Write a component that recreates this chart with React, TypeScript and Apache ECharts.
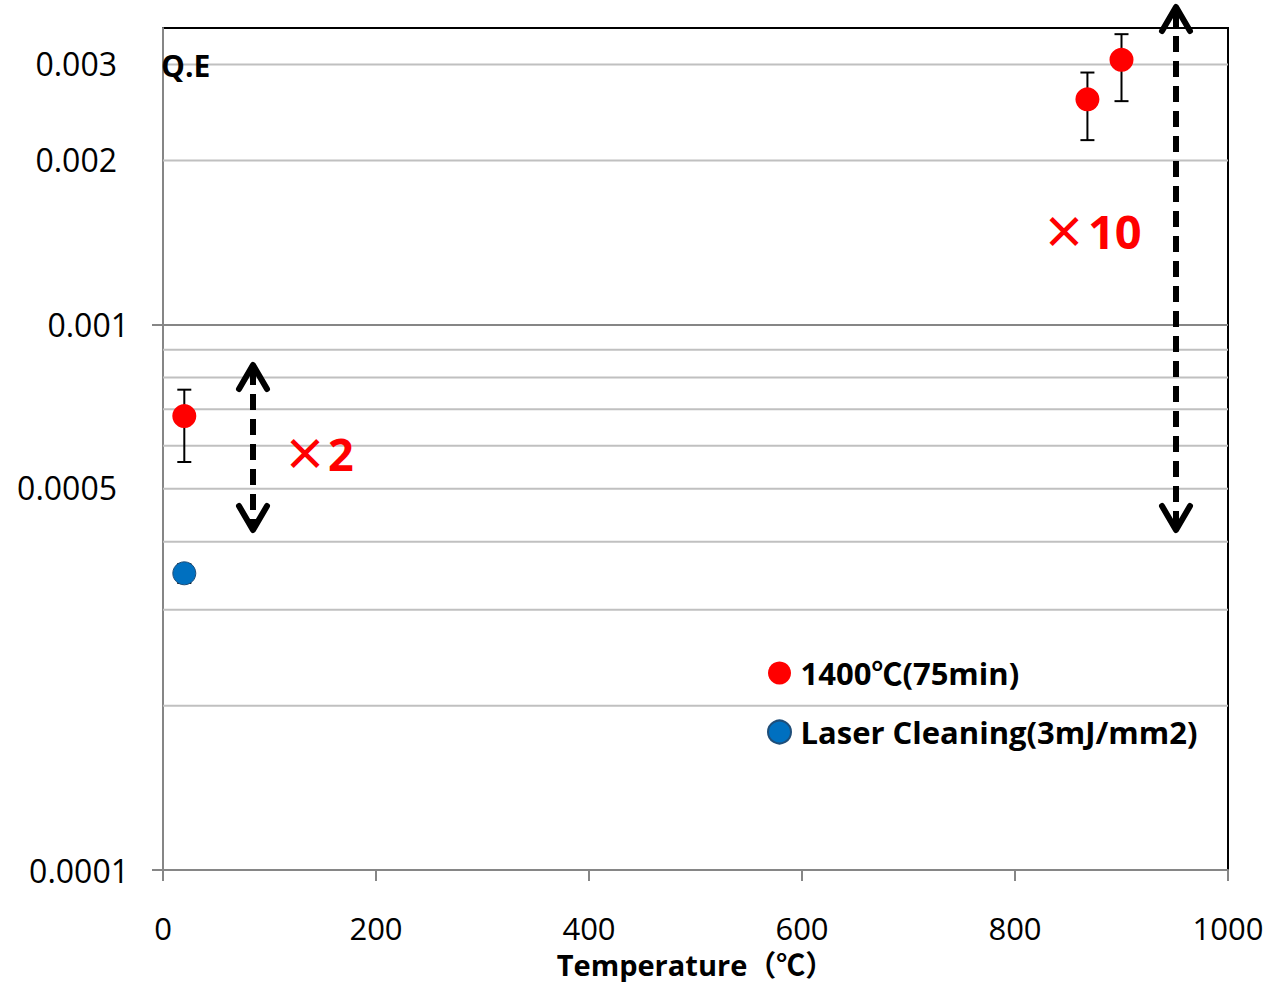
import React, { useEffect, useRef } from "react";
import * as echarts from "echarts";

// ---- data ----
const seriesNames = ["1400℃(75min)", "Laser Cleaning(3mJ/mm2)"];
// [temperature, Q.E]
const heated = [
  [20, 0.00068],
  [868, 0.00259],
  [900, 0.00306],
];
// [temperature, low, high]
const heatedErr = [
  [20, 0.00056, 0.00076],
  [868, 0.00218, 0.0029],
  [900, 0.00257, 0.00341],
];
const laser = [[20, 0.00035]];
const laserErr = [[20, 0.000336, 0.000364]];

const xTicks = [0, 200, 400, 600, 800, 1000];
const yMajorLabels = [0.0001, 0.001];
const gridValues = [0.0002, 0.0003, 0.0004, 0.0005, 0.0006, 0.0007, 0.0008, 0.0009, 0.002, 0.003];
const gridLabeled = ["0.0005", "0.002", "0.003"];

const FONT = '"Open Sans", "Noto Sans CJK JP", sans-serif';

function errorBars(color: string) {
  return (params: any, api: any) => {
    const x = api.value(0);
    const lo = api.coord([x, api.value(1)]);
    const hi = api.coord([x, api.value(2)]);
    const w = 7;
    const st = { stroke: color, lineWidth: 2 };
    return {
      type: "group",
      children: [
        { type: "line", shape: { x1: lo[0], y1: lo[1], x2: hi[0], y2: hi[1] }, style: st },
        { type: "line", shape: { x1: lo[0] - w, y1: lo[1], x2: lo[0] + w, y2: lo[1] }, style: st },
        { type: "line", shape: { x1: hi[0] - w, y1: hi[1], x2: hi[0] + w, y2: hi[1] }, style: st },
      ],
    };
  };
}

function gridLine(params: any, api: any) {
  const v = api.value(1);
  const p = api.coord([0, v]);
  const cs = params.coordSys;
  const children: any[] = [
    {
      type: "line",
      shape: { x1: cs.x, y1: p[1], x2: cs.x + cs.width, y2: p[1] },
      style: { stroke: "#c0c0c0", lineWidth: 2 },
    },
  ];
  const key = String(v);
  if (gridLabeled.includes(key)) {
    children.push({
      type: "text",
      x: cs.x - 46,
      y: p[1] - 1,
      style: {
        text: key,
        fontFamily: FONT,
        fontSize: 32,
        fill: "#000",
        align: "right",
        verticalAlign: "middle",
      },
    });
  }
  return { type: "group", children };
}

function arrow(x: number, yTop: number, yBot: number, lw: number) {
  const hw = 14;
  const hh = 26;
  const headStyle = { stroke: "#000", lineWidth: lw, fill: null, lineCap: "round", lineJoin: "round" };
  return [
    {
      type: "line",
      shape: { x1: x, y1: yTop + 6, x2: x, y2: yBot - 6 },
      style: { stroke: "#000", lineWidth: lw, lineDash: [16, 9] },
      z: 10,
    },
    {
      type: "polyline",
      shape: { points: [[x - hw, yTop + hh], [x, yTop + 2], [x + hw, yTop + hh]] },
      style: headStyle,
      z: 10,
    },
    {
      type: "polyline",
      shape: { points: [[x - hw, yBot - hh], [x, yBot - 2], [x + hw, yBot - hh]] },
      style: headStyle,
      z: 10,
    },
  ];
}

export default function App() {
  const ref = useRef<HTMLDivElement>(null);
  useEffect(() => {
    if (!ref.current) return;
    const chart = echarts.init(ref.current, null, { renderer: "svg" });
    const option: any = {
      animation: false,
      backgroundColor: "#fff",
      grid: {
        left: 163,
        right: 43,
        top: 28,
        bottom: 112,
        outerBoundsMode: "none",
        containLabel: false,
        show: true,
        borderColor: "#000",
        borderWidth: 2,
        backgroundColor: "transparent",
      },
      legend: {
        data: seriesNames.map((n) => ({ name: n, icon: "circle" })),
        orient: "vertical",
        left: 762,
        top: 651,
        itemWidth: 32,
        itemHeight: 23,
        itemGap: 25,
        textStyle: { fontFamily: FONT, fontSize: 31, fontWeight: "bold", color: "#000", lineHeight: 34 },
        selectedMode: false,
      },
      xAxis: {
        type: "value",
        min: 0,
        max: 1000,
        interval: 200,
        name: "Temperature（℃）",
        nameLocation: "middle",
        nameGap: 80,
        nameTextStyle: { fontFamily: FONT, fontSize: 29, fontWeight: "bold", color: "#000", lineHeight: 28 },
        axisLine: { show: true, lineStyle: { color: "#868686", width: 2 } },
        axisTick: { show: true, length: 11, lineStyle: { color: "#868686", width: 2 } },
        axisLabel: {
          fontFamily: FONT,
          fontSize: 31,
          color: "#000",
          margin: 44,
          lineHeight: 28,
          formatter: (v: number) => (xTicks.includes(v) ? String(v) : ""),
        },
        splitLine: { show: false },
      },
      yAxis: {
        type: "log",
        logBase: 10,
        min: 0.0001,
        max: 0.0035,
        axisLine: { show: true, lineStyle: { color: "#868686", width: 2 } },
        axisTick: { show: true, length: 11, lineStyle: { color: "#868686", width: 2 }, customValues: yMajorLabels },
        axisLabel: {
          customValues: yMajorLabels,
          fontFamily: FONT,
          fontSize: 32,
          color: "#000",
          margin: 34,
          formatter: (v: number) => {
            for (const m of yMajorLabels) if (Math.abs(v - m) / m < 1e-6) return String(m);
            return "";
          },
        },
        splitLine: { show: true, lineStyle: { color: "#868686", width: 2 } },
      },
      series: [
        {
          type: "custom",
          name: "gridlines",
          data: gridValues.map((v) => [0, v]),
          encode: { x: 0, y: 1 },
          renderItem: gridLine,
          silent: true,
          z: 1,
          clip: false,
        },
        {
          type: "custom",
          name: "err1",
          data: heatedErr,
          encode: { x: 0, y: [1, 2] },
          renderItem: errorBars("#000"),
          z: 2,
          silent: true,
        },
        {
          type: "custom",
          name: "err2",
          data: laserErr,
          encode: { x: 0, y: [1, 2] },
          renderItem: errorBars("#000"),
          z: 2,
          silent: true,
        },
        {
          type: "scatter",
          name: seriesNames[0],
          data: heated,
          symbol: "circle",
          symbolSize: 24,
          itemStyle: { color: "#FF0000", opacity: 1 },
          z: 3,
        },
        {
          type: "scatter",
          name: seriesNames[1],
          data: laser,
          symbol: "circle",
          symbolSize: 23,
          itemStyle: { color: "#0070C0", borderColor: "#1F4E79", borderWidth: 1, opacity: 1 },
          z: 3,
        },
      ],
      graphic: [
        {
          type: "text",
          left: 161,
          top: 50,
          style: { text: "Q.E", fontFamily: FONT, fontSize: 30, fontWeight: "bold", fill: "#000" },
          z: 10,
        },
        {
          type: "text",
          x: 283,
          y: 451,
          style: { text: "×", fontFamily: '"Noto Sans CJK JP"', fontSize: 44, fontWeight: "bold", fill: "#FF0000", verticalAlign: "middle" },
          z: 10,
        },
        {
          type: "text",
          x: 328,
          y: 453,
          style: { text: "2", fontFamily: FONT, fontSize: 45, fontWeight: "bold", fill: "#FF0000", verticalAlign: "middle" },
          z: 10,
        },
        {
          type: "text",
          x: 1042,
          y: 229,
          style: { text: "×", fontFamily: '"Noto Sans CJK JP"', fontSize: 44, fontWeight: "bold", fill: "#FF0000", verticalAlign: "middle" },
          z: 10,
        },
        {
          type: "text",
          x: 1088,
          y: 231,
          style: { text: "10", fontFamily: FONT, fontSize: 47, fontWeight: "bold", fill: "#FF0000", verticalAlign: "middle" },
          z: 10,
        },
        ...arrow(253, 363, 532, 6),
        ...arrow(1176, 5, 532, 6),
      ],
    };
    chart.setOption(option);
    return () => chart.dispose();
  }, []);
  return (
    <div
      ref={ref}
      style={{ position: "fixed", left: 0, top: 0, width: 1271, height: 982, background: "#fff" }}
    />
  );
}
